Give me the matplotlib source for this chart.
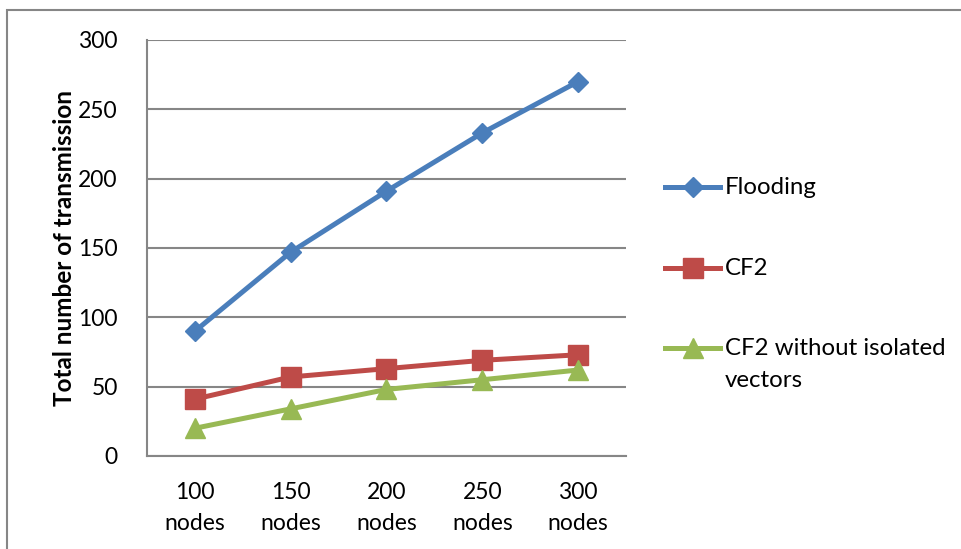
import matplotlib
matplotlib.use("Agg")
import matplotlib.pyplot as plt
from matplotlib.lines import Line2D
from matplotlib.patches import Rectangle

plt.rcParams['font.family'] = ['Lato', 'DejaVu Sans']

categories = ["100\nnodes", "150\nnodes", "200\nnodes", "250\nnodes", "300\nnodes"]
flooding = [90, 147, 191, 233, 270]
cf2 = [41, 57, 63, 69, 73]
cf2_no_isolated = [20, 34, 48, 55, 62]
series_names = ["Flooding", "CF2", "CF2 without isolated\nvectors"]
y_ticks = [0, 50, 100, 150, 200, 250, 300]

W, H = 962, 549
fig = plt.figure(figsize=(W / 100, H / 100), dpi=100)
ax = fig.add_axes([147 / W, 1 - 456 / H, (626 - 147) / W, (456 - 40) / H])

grid_col = "#868686"
styles = [
    dict(color="#4A7EBB", marker="D", ms=10),
    dict(color="#BE4B48", marker="s", ms=14),
    dict(color="#98B954", marker="^", ms=14),
]

x = range(len(categories))
for vals, st in zip([flooding, cf2, cf2_no_isolated], styles):
    ax.plot(x, vals, color=st["color"], lw=3.6, marker=st["marker"],
            ms=st["ms"], mfc=st["color"], mec=st["color"], zorder=3)

ax.set_xlim(-0.5, len(categories) - 0.5)
ax.set_ylim(0, 300)
ax.set_yticks(y_ticks)
ax.set_xticks(list(x))
ax.set_xticklabels(categories, linespacing=1.55)
ax.tick_params(axis="both", length=0, labelsize=16.5, colors="black")
ax.tick_params(axis="y", pad=21)
ax.tick_params(axis="x", pad=19)
ax.yaxis.grid(True, color=grid_col, lw=1.5)
ax.set_axisbelow(True)
for side in ["top", "right"]:
    ax.spines[side].set_visible(False)
for side in ["left", "bottom"]:
    ax.spines[side].set_color(grid_col)
    ax.spines[side].set_linewidth(1.5)

ax.set_ylabel("Total number of transmission", fontsize=17.5, fontweight="bold")
ax.yaxis.set_label_coords((76 - 147) / (626 - 147), 0.5)

# legend drawn by hand so the wrapped label lines up with its first line
leg_y = [187, 268, 348]
for name, st, yy in zip(series_names, styles, leg_y):
    fy = 1 - yy / H
    fig.add_artist(Line2D([665 / W, 693 / W, 720 / W], [fy, fy, fy],
                          transform=fig.transFigure, color=st["color"], lw=3.6,
                          marker=st["marker"], ms=st["ms"], markevery=[1],
                          mfc=st["color"], mec=st["color"]))
    fig.text(725 / W, fy + 10 / H, name, fontsize=17.3, va="top", ha="left",
             linespacing=1.62)

# outer chart frame
fig.add_artist(Rectangle((7 / W, -0.1), 1.2, 1 - 10 / H + 0.1,
                         transform=fig.transFigure, fill=False,
                         edgecolor=grid_col, lw=1.5))

fig.savefig("out.png", dpi=100)
